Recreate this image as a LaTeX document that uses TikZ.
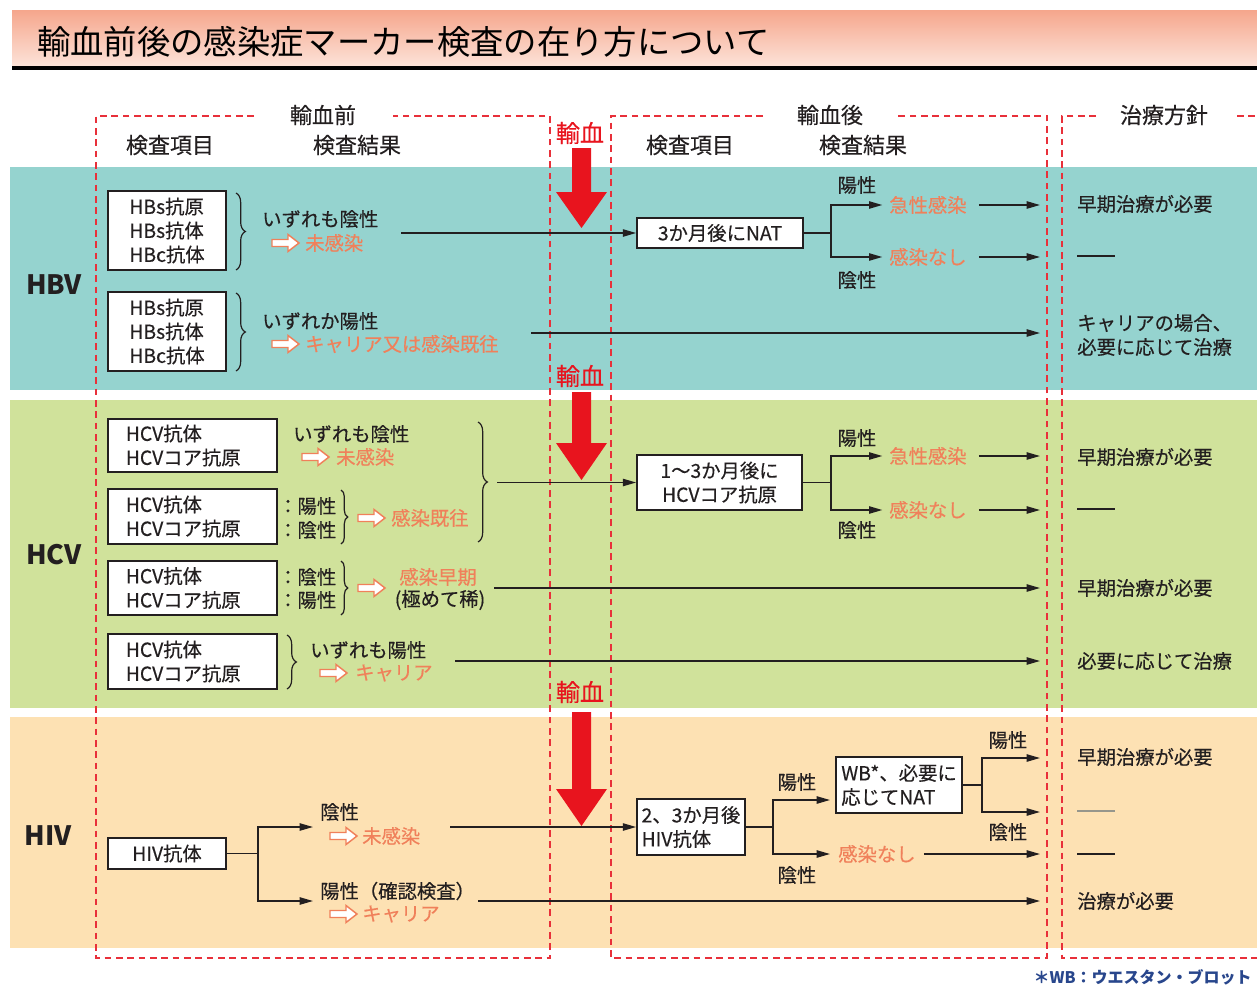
\documentclass[tikz,border=0pt]{standalone}
\usepackage{fontspec}
\setmainfont{Noto Sans CJK JP}[UprightFeatures={FakeBold=0.35}]
\newfontfamily\titlefont{Noto Sans CJK JP}
\usetikzlibrary{decorations.pathreplacing,arrows.meta}
\definecolor{bandA}{RGB}{149,211,207}
\definecolor{bandB}{RGB}{208,226,155}
\definecolor{bandC}{RGB}{253,225,179}
\definecolor{dashred}{RGB}{232,48,58}
\definecolor{redarr}{RGB}{232,20,30}
\definecolor{orc}{RGB}{240,128,90}
\definecolor{txtc}{RGB}{35,31,32}
\definecolor{ttop}{RGB}{245,166,140}
\definecolor{tbot}{RGB}{253,228,218}
\definecolor{fnblue}{RGB}{40,70,140}
\definecolor{dashgray}{RGB}{150,150,140}
\begin{document}
\begin{tikzpicture}[x=0.75pt,y=-0.75pt,
  t/.style={font=\fontsize{14.5}{17}\selectfont, inner sep=0pt, text=txtc},
  tw/.style={t, anchor=west},
  ot/.style={tw, text=orc},
  hd/.style={font=\fontsize{16.5}{19}\selectfont, inner sep=0pt, text=txtc},
  rl/.style={font=\fontsize{18}{20}\selectfont, inner sep=0pt, text=redarr},
  vl/.style={font=\fontsize{20}{22}\bfseries\selectfont, inner sep=0pt, text=txtc},
  box/.style={draw=txtc, line width=1.3pt, fill=white, font=\fontsize{14.5}{18}\selectfont, inner sep=0pt, align=left, text=txtc},
  ln/.style={line width=1.1pt, draw=txtc},
  arr/.style={ln, -{Triangle[length=10pt,width=5.5pt]}},
  rd/.style={draw=dashred, line width=1.1pt, dash pattern=on 5pt off 3.5pt},
  br/.style={ln, line width=0.9pt, decorate, decoration={brace, amplitude=7pt}},
  harrow/.pic={\draw[orc, line width=1.1pt, fill=white, line join=miter] (0,-3.5) -- (16,-3.5) -- (16,-8.5) -- (27,0) -- (16,8.5) -- (16,3.5) -- (0,3.5) -- cycle;}
]
\useasboundingbox (0,0) rectangle (1257,985);

% title bar
\shade[top color=ttop, bottom color=tbot] (12,10) rectangle (1257,67);
\fill[black] (12,66) rectangle (1257,70);
\node[font=\titlefont\fontsize{25}{28}\selectfont, anchor=west, inner sep=0pt, text=black] (title) at (37,42) {輸血前後の感染症マーカー検査の在り方について};

% bands
\fill[bandA] (10,167) rectangle (1257,390);
\fill[bandB] (10,400) rectangle (1257,708);
\fill[bandC] (10,717) rectangle (1257,948);

% dashed frames
\draw[rd] (254,116) -- (96,116) -- (96,958) -- (550,958) -- (550,116) -- (393,116);
\draw[rd] (763,116) -- (611,116) -- (611,958) -- (1047,958) -- (1047,116) -- (895,116);
\draw[rd] (1096,116) -- (1062,116) -- (1062,958) -- (1257,958);
\draw[rd] (1237,116) -- (1257,116);

% headers
\node[hd] (hpre) at (323,115) {輸血前};
\node[hd] (hpost) at (830,115) {輸血後};
\node[hd] (htr) at (1164,115) {治療方針};
\node[hd] (hk1) at (170,145) {検査項目};
\node[hd] (hr1) at (357,145) {検査結果};
\node[hd] (hk2) at (690,145) {検査項目};
\node[hd] (hr2) at (863,145) {検査結果};

% red transfusion arrows
\node[rl] (tf1) at (580,133) {輸血};
\node[rl] (tf2) at (580,376) {輸血};
\node[rl] (tf3) at (580,692) {輸血};
\fill[redarr] (572,148) -- (591,148) -- (591,192) -- (607,192) -- (581.5,228) -- (556,192) -- (572,192) -- cycle;
\fill[redarr] (572,392) -- (591,392) -- (591,443) -- (607,443) -- (581.5,480) -- (556,443) -- (572,443) -- cycle;
\fill[redarr] (572,712) -- (591,712) -- (591,789) -- (607,789) -- (581.5,826) -- (556,789) -- (572,789) -- cycle;

% ================= HBV =================
\node[vl] (hbv) at (54,285) {HBV};
\node[box, minimum width=88.5pt, minimum height=59.25pt] (hb1) at (167,230.5) {HBs抗原\\HBs抗体\\HBc抗体};
\node[box, minimum width=88.5pt, minimum height=59.25pt] (hb2) at (167,331.5) {HBs抗原\\HBs抗体\\HBc抗体};
\draw[br] (236,193) -- (236,270);
\draw[br] (236,293) -- (236,371);
\node[tw] (hbneg) at (262,219) {いずれも陰性};
\pic at (272,243) {harrow};
\node[ot] (hbni) at (305,243) {未感染};
\node[tw] (hbpos) at (262,321) {いずれか陽性};
\pic at (272,344) {harrow};
\node[ot] (hbcar) at (305,344) {キャリア又は感染既往};

\node[box, align=center, minimum width=124.5pt, minimum height=22.5pt] (nat) at (720,233) {3か月後にNAT};
\coordinate (s1) at (401,233);
\draw[arr] (s1) -- (s1 -| nat.west);
\coordinate (b1) at (831,233);
\node[ot] (hbacute) at (889,205) {急性感染};
\node[ot] (hbnone) at (889,257) {感染なし};
\draw[ln] (nat.east) -- (b1);
\draw[arr] (b1) |- ([xshift=-5pt]hbacute.west);
\draw[arr] (b1) |- ([xshift=-5pt]hbnone.west);
\node[t] (hbp1) at (857,185) {陽性};
\node[t] (hbn1) at (857,280) {陰性};
\coordinate (e1) at (1040,205);
\coordinate (e2) at (1040,257);
\coordinate (e3) at (1040,333);
\draw[arr] ([xshift=9pt]hbacute.east) -- (e1);
\draw[arr] ([xshift=9pt]hbnone.east) -- (e2);
\coordinate (s2) at (531,333);
\draw[arr] (s2) -- (e3);
\node[tw] (r1) at (1077,204) {早期治療が必要};
\draw[ln, line width=0.9pt] (1077,256) -- (1115,256);
\node[tw] (r2) at (1077,323) {キャリアの場合、};
\node[tw] (r3) at (1077,347) {必要に応じて治療};

% ================= HCV =================
\node[vl] (hcv) at (54,555) {HCV};
\node[box, minimum width=126.75pt, minimum height=39.75pt, text width=114pt] (hc1) at (192.5,445.5) {\hspace*{7pt}HCV抗体\\\hspace*{7pt}HCVコア抗原};
\node[box, minimum width=126.75pt, minimum height=41.25pt, text width=114pt] (hc2) at (192.5,516.5) {\hspace*{7pt}HCV抗体\\\hspace*{7pt}HCVコア抗原};
\node[box, minimum width=126.75pt, minimum height=40.5pt, text width=114pt] (hc3) at (192.5,588) {\hspace*{7pt}HCV抗体\\\hspace*{7pt}HCVコア抗原};
\node[box, minimum width=126.75pt, minimum height=41.25pt, text width=114pt] (hc4) at (192.5,661.5) {\hspace*{7pt}HCV抗体\\\hspace*{7pt}HCVコア抗原};

\node[tw] (hcneg) at (293,434) {いずれも陰性};
\pic at (302,457) {harrow};
\node[ot] (hcni) at (336,457) {未感染};

\node[tw] (c2a) at (278,506) {：陽性};
\node[tw] (c2b) at (278,530) {：陰性};
\draw[br, decoration={brace, amplitude=5pt}] (341,490) -- (341,544);
\pic at (358,518) {harrow};
\node[ot] (hcpast) at (391,518) {感染既往};

\node[tw] (c3a) at (278,577) {：陰性};
\node[tw] (c3b) at (278,600) {：陽性};
\draw[br, decoration={brace, amplitude=5pt}] (341,561) -- (341,615);
\pic at (358,588) {harrow};
\node[t, text=orc] (hcearly) at (438,577) {感染早期};
\node[t] (hcrare) at (440,600) {(極めて稀)};

\node[tw] (hcpos) at (310,650) {いずれも陽性};
\draw[br] (287,635) -- (287,689);
\pic at (320,673) {harrow};
\node[ot] (hccar) at (355,673) {キャリア};

\draw[br] (478,422) -- (478,542);
\node[box, align=center, minimum width=123.75pt, minimum height=41.25pt] (hcv13) at (719.5,482.5) {1〜3か月後に\\HCVコア抗原};
\coordinate (s3) at (497,482.5);
\draw[arr] (s3) -- (hcv13.west);
\coordinate (b2) at (831,482.5);
\node[ot] (hcacute) at (889,456) {急性感染};
\node[ot] (hcnone) at (889,510) {感染なし};
\draw[ln] (hcv13.east) -- (b2);
\draw[arr] (b2) |- ([xshift=-5pt]hcacute.west);
\draw[arr] (b2) |- ([xshift=-5pt]hcnone.west);
\node[t] (hcp1) at (857,438) {陽性};
\node[t] (hcn1) at (857,530) {陰性};
\coordinate (e4) at (1040,456);
\coordinate (e5) at (1040,510);
\coordinate (e6) at (1040,588);
\coordinate (e7) at (1040,661);
\draw[arr] ([xshift=9pt]hcacute.east) -- (e4);
\draw[arr] ([xshift=9pt]hcnone.east) -- (e5);
\coordinate (s4) at (494,588);
\draw[arr] (s4) -- (e6);
\coordinate (s5) at (455,661);
\draw[arr] (s5) -- (e7);
\node[tw] (r4) at (1077,457) {早期治療が必要};
\draw[ln, line width=0.9pt] (1077,509) -- (1115,509);
\node[tw] (r5) at (1077,588) {早期治療が必要};
\node[tw] (r6) at (1077,661) {必要に応じて治療};

% ================= HIV =================
\node[vl] (hiv) at (48,836) {HIV};
\node[box, align=center, minimum width=88.5pt, minimum height=23.25pt] (hivab) at (167,853.5) {HIV抗体};
\coordinate (b3) at (258,853.5);
\coordinate (a1) at (313,827);
\coordinate (a2) at (313,901);
\draw[ln] (hivab.east) -- (b3);
\draw[arr] (b3) |- (a1);
\draw[arr] (b3) |- (a2);
\node[tw] (hvneg) at (320,812) {陰性};
\pic at (330,836) {harrow};
\node[ot] (hvni) at (362,836) {未感染};
\node[tw] (hvpos) at (320,891) {陽性（確認検査）};
\pic at (330,914) {harrow};
\node[ot] (hvcar) at (362,914) {キャリア};

\node[box, minimum width=81pt, minimum height=42pt] (hiv23) at (691,827) {2、3か月後\\HIV抗体};
\coordinate (s6) at (450,827);
\draw[arr] (s6) -- (hiv23.west);
\coordinate (b4) at (773,827);
\draw[ln] (hiv23.east) -- (b4);
\node[box, minimum width=94.5pt, minimum height=42pt] (wb) at (899,785) {WB*、必要に\\応じてNAT};
\coordinate (wbin) at (830,800);
\node[ot] (hvnone) at (838,854) {感染なし};
\draw[arr] (b4) |- (wbin);
\draw[arr] (b4) |- ([xshift=-6pt]hvnone.west);
\node[t] (hvp1) at (797,782) {陽性};
\node[t] (hvn1) at (797,875) {陰性};
\coordinate (b5) at (982,785);
\coordinate (e8) at (1040,758);
\coordinate (e9) at (1040,812);
\coordinate (e10) at (1040,854);
\coordinate (e11) at (1040,901);
\draw[ln] (wb.east) -- (b5);
\draw[arr] (b5) |- (e8);
\draw[arr] (b5) |- (e9);
\node[t] (hvp2) at (1008,740) {陽性};
\node[t] (hvn2) at (1008,832) {陰性};
\draw[arr] ([xshift=6pt]hvnone.east) -- (e10);
\coordinate (s7) at (478,901);
\draw[arr] (s7) -- (e11);
\node[tw] (r7) at (1077,757) {早期治療が必要};
\draw[dashgray, line width=1.1pt] (1077,811) -- (1115,811);
\draw[ln, line width=0.9pt] (1077,854) -- (1115,854);
\node[tw] (r8) at (1077,901) {治療が必要};

% footnote
\node[font=\fontsize{12}{14}\bfseries\selectfont, text=fnblue, anchor=east, inner sep=0pt] (fn) at (1252,977) {＊WB：ウエスタン・ブロット};
\end{tikzpicture}
\end{document}
